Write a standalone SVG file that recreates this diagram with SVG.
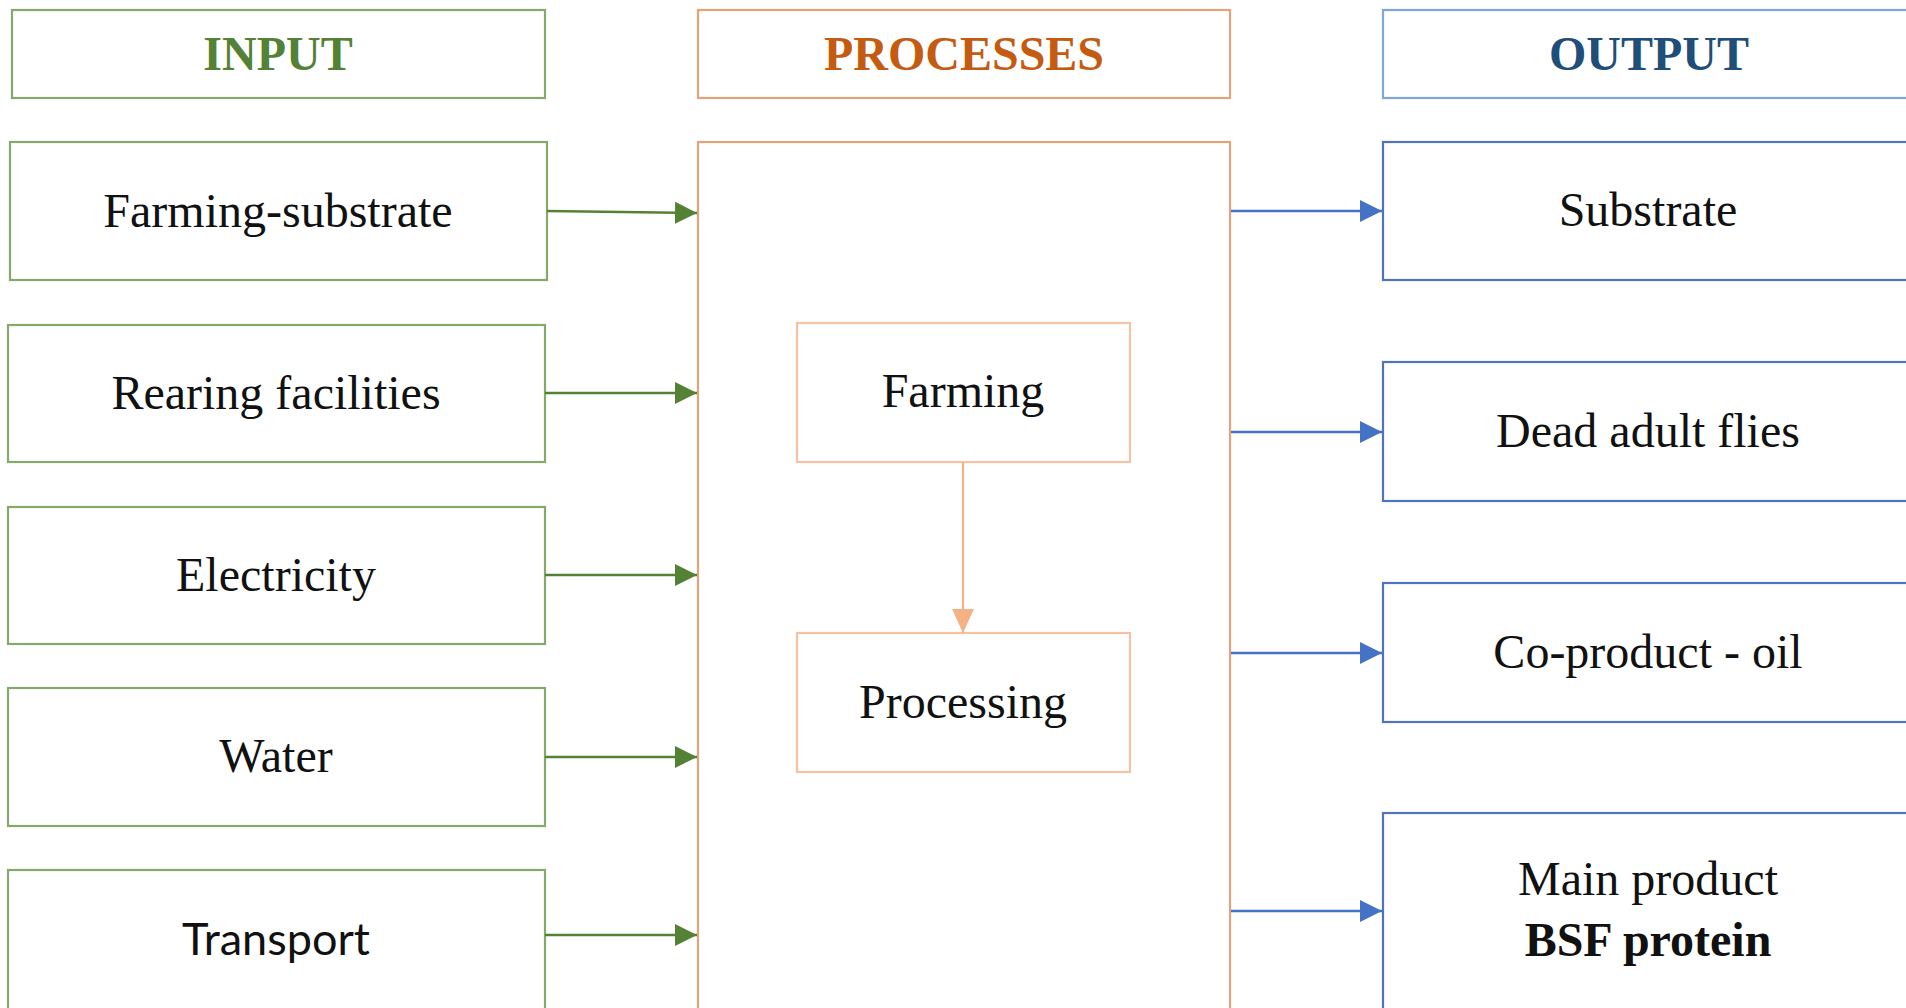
<svg xmlns="http://www.w3.org/2000/svg" width="1906" height="1008" viewBox="0 0 1906 1008">
<defs>
<style>
.t{font-family:"Liberation Serif","Times New Roman",serif;font-size:48px;fill:#111;text-anchor:middle}
.h{font-family:"Liberation Serif","Times New Roman",serif;font-size:48px;font-weight:bold;text-anchor:middle}
.s{font-family:Lato,"Liberation Sans",sans-serif;font-size:45px;fill:#111;text-anchor:middle}
.gin{fill:#fff;stroke:#84a96a;stroke-width:2.2}
.org{fill:#fff;stroke:#e3a27a;stroke-width:2.2}
.orgl{fill:#fff;stroke:#f6c3a1;stroke-width:2.2}
.blu{fill:#fff;stroke:#4f74bd;stroke-width:2.2}
.bluh{fill:#fff;stroke:#7ea6d6;stroke-width:2.2}
.ga{stroke:#548235;stroke-width:2.6;fill:none}
.ba{stroke:#4472c4;stroke-width:2.6;fill:none}
.oa{stroke:#f4b183;stroke-width:2.2;fill:none}
</style>
<marker id="mg" markerWidth="10" markerHeight="10" refX="10" refY="5" orient="auto" markerUnits="userSpaceOnUse" viewBox="0 0 10 10" style="overflow:visible"><path d="M0,0 L10,5 L0,10 z" fill="#548235" transform="scale(2.2)" /></marker>
<marker id="mb" markerWidth="22" markerHeight="22" refX="22" refY="11" orient="auto" markerUnits="userSpaceOnUse"><path d="M0,0 L22,11 L0,22 z" fill="#4472c4"/></marker>
<marker id="mo" markerWidth="22" markerHeight="24" refX="24" refY="11" orient="auto" markerUnits="userSpaceOnUse"><path d="M0,0 L24,11 L0,22 z" fill="#f4b183"/></marker>
<marker id="mg2" markerWidth="22" markerHeight="22" refX="22" refY="11" orient="auto" markerUnits="userSpaceOnUse"><path d="M0,0 L22,11 L0,22 z" fill="#548235"/></marker>
</defs>
<rect width="1906" height="1008" fill="#fff"/>

<g id="input-header"><rect class="gin" x="12" y="10" width="533" height="88"/><text class="h" x="278" y="70" fill="#538135">INPUT</text></g>
<g id="processes-header"><rect class="org" x="698" y="10" width="532" height="88"/><text class="h" x="964" y="70" fill="#c55a11">PROCESSES</text></g>
<g id="output-header"><rect class="bluh" x="1383" y="10" width="540" height="88"/><text class="h" x="1649" y="70" fill="#1f4e79">OUTPUT</text></g>

<g id="in-farming-substrate"><rect class="gin" x="10" y="142" width="537" height="138"/><text class="t" x="278" y="227">Farming-substrate</text></g>
<g id="in-rearing"><rect class="gin" x="8" y="325" width="537" height="137"/><text class="t" x="276" y="409">Rearing facilities</text></g>
<g id="in-electricity"><rect class="gin" x="8" y="507" width="537" height="137"/><text class="t" x="276" y="591">Electricity</text></g>
<g id="in-water"><rect class="gin" x="8" y="688" width="537" height="138"/><text class="t" x="276" y="772">Water</text></g>
<g id="in-transport"><rect class="gin" x="8" y="870" width="537" height="140"/><text class="s" x="276" y="955">Transport</text></g>

<g id="processes"><rect class="org" x="698" y="142" width="532" height="870"/></g>
<g id="farming"><rect class="orgl" x="797" y="323" width="333" height="139"/><text class="t" x="963" y="407">Farming</text></g>
<g id="processing"><rect class="orgl" x="797" y="633" width="333" height="139"/><text class="t" x="963" y="718">Processing</text></g>

<g id="out-substrate"><rect class="blu" x="1383" y="142" width="540" height="138"/><text class="t" x="1648" y="226">Substrate</text></g>
<g id="out-dead-flies"><rect class="blu" x="1383" y="362" width="540" height="139"/><text class="t" x="1648" y="447">Dead adult flies</text></g>
<g id="out-oil"><rect class="blu" x="1383" y="583" width="540" height="139"/><text class="t" x="1648" y="668">Co-product - oil</text></g>
<g id="out-main"><rect class="blu" x="1383" y="813" width="540" height="210"/><text class="t" x="1648" y="895">Main product</text><text class="t" x="1648" y="956" font-weight="bold">BSF protein</text></g>

<g id="connectors">
<path class="ga" d="M547,211 L697,213" marker-end="url(#mg2)"/>
<path class="ga" d="M545,393 L697,393" marker-end="url(#mg2)"/>
<path class="ga" d="M545,575 L697,575" marker-end="url(#mg2)"/>
<path class="ga" d="M545,757 L697,757" marker-end="url(#mg2)"/>
<path class="ga" d="M545,935 L697,935" marker-end="url(#mg2)"/>
<path class="oa" d="M963,462 L963,633" marker-end="url(#mo)"/>
<path class="ba" d="M1231,211 L1382,211" marker-end="url(#mb)"/>
<path class="ba" d="M1231,432 L1382,432" marker-end="url(#mb)"/>
<path class="ba" d="M1231,653 L1382,653" marker-end="url(#mb)"/>
<path class="ba" d="M1231,911 L1382,911" marker-end="url(#mb)"/>
</g>
</svg>
